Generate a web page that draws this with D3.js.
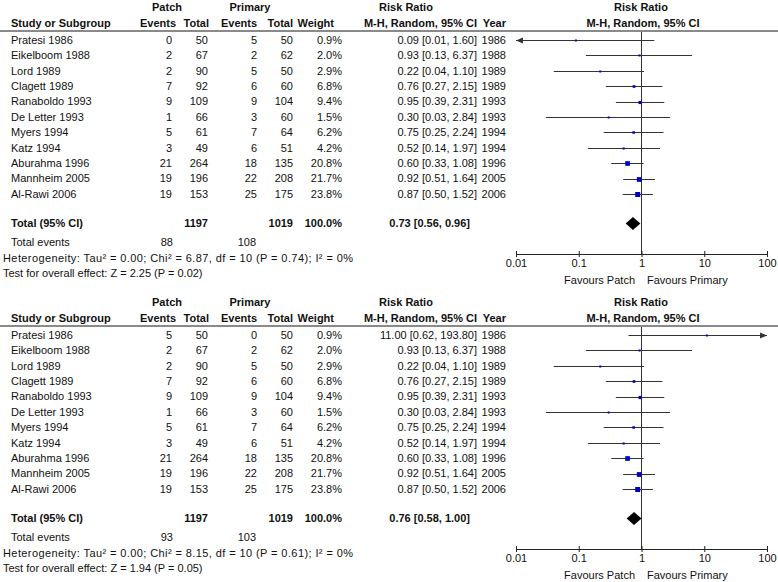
<!DOCTYPE html>
<html>
<head>
<meta charset="utf-8">
<script src="https://cdn.jsdelivr.net/npm/d3@7"></script>
<style>
  html, body { margin: 0; padding: 0; background: #fff; }
  svg { display: block; }
  text { font-family: "Liberation Sans", Arial, sans-serif; font-size: 11px; fill: #111; }
  .b { font-weight: bold; }
</style>
</head>
<body>
<svg id="chart" width="778" height="582"></svg>
<script>
// ---------- data ----------
const studies = ["Pratesi 1986","Eikelboom 1988","Lord 1989","Clagett 1989","Ranaboldo 1993","De Letter 1993","Myers 1994","Katz 1994","Aburahma 1996","Mannheim 2005","Al-Rawi 2006"];
const years = [1986,1988,1989,1989,1993,1993,1994,1994,1996,2005,2006];
const patchTotal = [50,67,90,92,109,66,61,49,264,196,153];
const primaryTotal = [50,62,50,60,104,60,64,51,135,208,175];
const weights = [0.9,2.0,2.9,6.8,9.4,1.5,6.2,4.2,20.8,21.7,23.8];

// panel 1
const patchEvents1 = [0,2,2,7,9,1,5,3,21,19,19];
const primaryEvents1 = [5,2,5,6,9,3,7,6,18,22,25];
const rr1 = [0.09,0.93,0.22,0.76,0.95,0.30,0.75,0.52,0.60,0.92,0.87];
const lo1 = [0.01,0.13,0.04,0.27,0.39,0.03,0.25,0.14,0.33,0.51,0.50];
const hi1 = [1.60,6.37,1.10,2.15,2.31,2.84,2.24,1.97,1.08,1.64,1.52];
const total1 = {rr: 0.73, lo: 0.56, hi: 0.96, ev1: 88, ev2: 108,
  het: "Heterogeneity: Tau² = 0.00; Chi² = 6.87, df = 10 (P = 0.74); I² = 0%",
  test: "Test for overall effect: Z = 2.25 (P = 0.02)"};

// panel 2
const patchEvents2 = [5,2,2,7,9,1,5,3,21,19,19];
const primaryEvents2 = [0,2,5,6,9,3,7,6,18,22,25];
const rr2 = [11.00,0.93,0.22,0.76,0.95,0.30,0.75,0.52,0.60,0.92,0.87];
const lo2 = [0.62,0.13,0.04,0.27,0.39,0.03,0.25,0.14,0.33,0.51,0.50];
const hi2 = [193.80,6.37,1.10,2.15,2.31,2.84,2.24,1.97,1.08,1.64,1.52];
const total2 = {rr: 0.76, lo: 0.58, hi: 1.00, ev1: 93, ev2: 103,
  het: "Heterogeneity: Tau² = 0.00; Chi² = 8.15, df = 10 (P = 0.61); I² = 0%",
  test: "Test for overall effect: Z = 1.94 (P = 0.05)"};

const axisTicks = [0.01, 0.1, 1, 10, 100];
const axisTickLabels = ["0.01", "0.1", "1", "10", "100"];
const totalPatch = 1197, totalPrimary = 1019, totalWeight = "100.0%";

// ---------- drawing ----------
const svg = d3.select("#chart");
const x = d3.scaleLog().domain([0.01, 100]).range([516, 767]);
const rowY = d3.scaleLinear().domain([0, 10]).range([40, 194]);
const sq = d3.scaleSqrt().domain([0, 23.8]).range([0, 5]);
const f2 = d3.format(".2f");
const fW = d => d.toFixed(1) + "%";

function txt(g, x0, y0, s, anchor, cls) {
  return g.append("text").attr("x", x0).attr("y", y0).attr("dy", "0.35em")
    .attr("text-anchor", anchor || "start").attr("class", cls || null).text(s);
}

function panel(offset, pe, qe, rr, lo, hi, tot) {
  const g = svg.append("g").attr("transform", `translate(0,${offset})`);
  // headers
  txt(g, 167, 7.5, "Patch", "middle", "b");
  txt(g, 250, 7.5, "Primary", "middle", "b");
  txt(g, 406, 7.5, "Risk Ratio", "middle", "b");
  txt(g, 641, 7.5, "Risk Ratio", "middle", "b");
  txt(g, 11, 23, "Study or Subgroup", "start", "b");
  txt(g, 176, 23, "Events", "end", "b");
  txt(g, 209, 23, "Total", "end", "b");
  txt(g, 257, 23, "Events", "end", "b");
  txt(g, 293, 23, "Total", "end", "b");
  txt(g, 334, 23, "Weight", "end", "b");
  txt(g, 477, 23, "M-H, Random, 95% CI", "end", "b");
  txt(g, 506, 23, "Year", "end", "b");
  txt(g, 643, 23, "M-H, Random, 95% CI", "middle", "b");
  g.append("line").attr("x1", 0).attr("x2", 778).attr("y1", 31).attr("y2", 31)
    .attr("stroke", "#8a8a8a").attr("stroke-width", 2);

  // reference line
  g.append("line").attr("x1", x(1)).attr("x2", x(1)).attr("y1", 32).attr("y2", 254)
    .attr("stroke", "#333").attr("stroke-width", 1);

  // rows
  studies.forEach((s, i) => {
    const y = rowY(i);
    txt(g, 11, y, s);
    txt(g, 172, y, pe[i], "end");
    txt(g, 208, y, patchTotal[i], "end");
    txt(g, 257, y, qe[i], "end");
    txt(g, 293, y, primaryTotal[i], "end");
    txt(g, 342, y, fW(weights[i]), "end");
    txt(g, 477, y, `${f2(rr[i])} [${f2(lo[i])}, ${f2(hi[i])}]`, "end");
    txt(g, 506, y, years[i], "end");

    const [d0, d1] = x.domain();
    const xl = x(Math.max(lo[i], d0)), xh = x(Math.min(hi[i], d1));
    const yy = Math.round(y) + 0.5;
    g.append("line").attr("x1", xl).attr("x2", xh).attr("y1", yy).attr("y2", yy)
      .attr("stroke", "#333").attr("stroke-width", 1);
    if (lo[i] <= d0) {
      g.append("path").attr("d", `M${xl},${yy} l7,-3 l0,6 Z`).attr("fill", "#333");
    }
    if (hi[i] >= d1) {
      g.append("path").attr("d", `M${xh},${yy} l-7,-3 l0,6 Z`).attr("fill", "#333");
    }
    const s2 = Math.max(2, sq(weights[i]));
    g.append("rect").attr("x", x(rr[i]) - s2 / 2).attr("y", yy - s2 / 2)
      .attr("width", s2).attr("height", s2).attr("fill", "#0000cc");
  });

  // total
  const ty = 223.5;
  txt(g, 11, ty, "Total (95% CI)", "start", "b");
  txt(g, 208, ty, totalPatch, "end", "b");
  txt(g, 293, ty, totalPrimary, "end", "b");
  txt(g, 342, ty, totalWeight, "end", "b");
  txt(g, 470, ty, `${f2(tot.rr)} [${f2(tot.lo)}, ${f2(tot.hi)}]`, "end", "b");
  g.append("path")
    .attr("d", `M${x(tot.lo)},${ty} L${x(tot.rr)},${ty - 6.5} L${x(tot.hi)},${ty} L${x(tot.rr)},${ty + 6.5} Z`)
    .attr("fill", "#000");

  txt(g, 11, 242, "Total events");
  txt(g, 173, 242, tot.ev1, "end");
  txt(g, 256, 242, tot.ev2, "end");
  txt(g, 3, 258, tot.het).attr("textLength", 350).attr("lengthAdjust", "spacing");
  txt(g, 3, 273, tot.test);

  // axis
  const ax = g.append("g").attr("transform", "translate(0,254)")
    .call(d3.axisBottom(x).tickValues(axisTicks).tickFormat((d, i) => axisTickLabels[i])
      .tickSizeOuter(0).tickSizeInner(3).tickPadding(2));
  ax.select(".domain").attr("stroke", "#222");
  ax.selectAll(".tick line").attr("y1", -3).attr("y2", 3).attr("stroke", "#222");
  ax.selectAll(".tick text").attr("font-size", 11).attr("fill", "#111")
    .attr("font-family", "Liberation Sans, Arial, sans-serif");

  txt(g, 635, 280, "Favours Patch", "end");
  txt(g, 647, 280, "Favours Primary", "start");
}

panel(0, patchEvents1, primaryEvents1, rr1, lo1, hi1, total1);
panel(295, patchEvents2, primaryEvents2, rr2, lo2, hi2, total2);
</script>
</body>
</html>
